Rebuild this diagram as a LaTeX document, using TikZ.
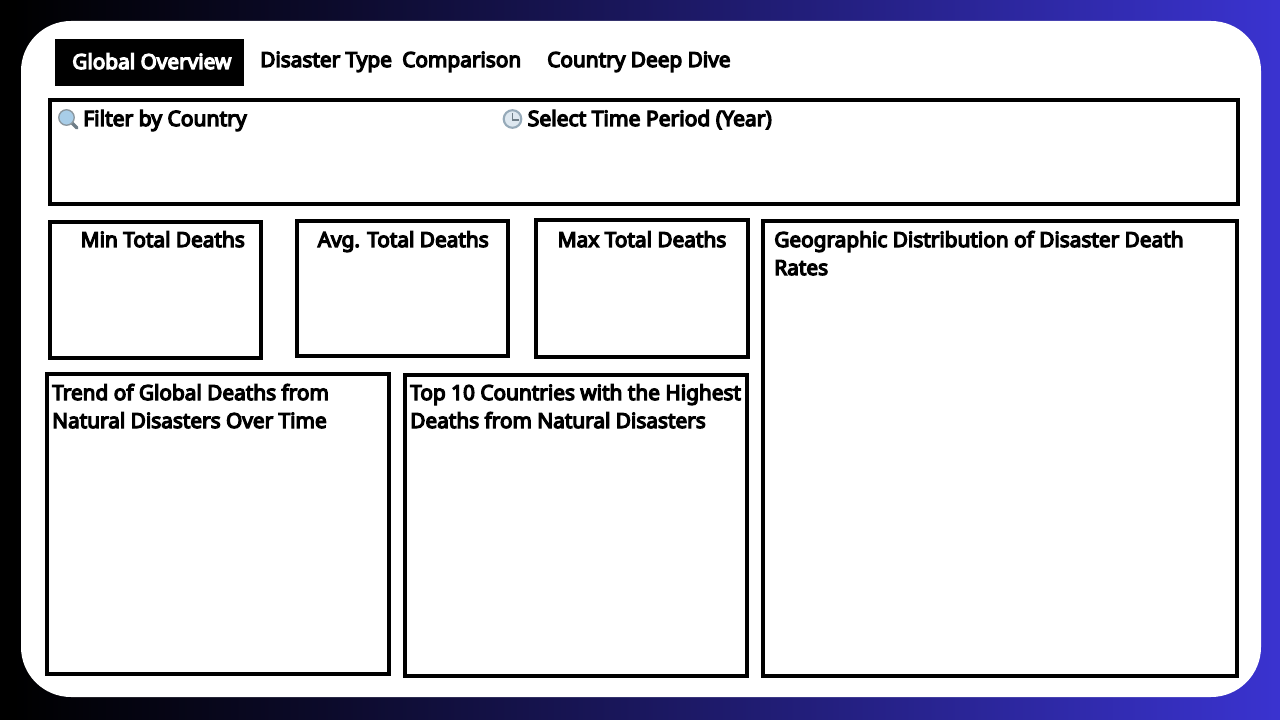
\documentclass[tikz,border=0pt]{standalone}
\usepackage{fontspec}
\setmainfont{Noto Sans}[BoldFont=Noto Sans,BoldFeatures={FakeBold=6}]
\usetikzlibrary{positioning}
\definecolor{edgeblue}{RGB}{58,51,208}
\definecolor{lensblue}{RGB}{168,205,232}
\definecolor{handlegray}{RGB}{110,125,135}
\definecolor{clockgray}{RGB}{150,170,185}
\definecolor{clockface}{RGB}{222,232,240}
\pgfdeclarehorizontalshading{backdrop}{100bp}{
  color(0bp)=(black); color(25.5bp)=(black); color(37.5bp)=(black!80!edgeblue);
  color(50bp)=(black!55!edgeblue); color(62.5bp)=(black!28!edgeblue);
  color(75bp)=(edgeblue); color(100bp)=(edgeblue)}
\begin{document}
\begin{tikzpicture}[
  x=0.75pt,y=-0.75pt,
  panel/.style={draw=black,line width=3pt,fill=white,anchor=north west,inner sep=0,outer sep=0},
  heading/.style={anchor=base west,inner sep=0,font=\bfseries\fontsize{15.6}{21}\selectfont,align=left},
  filterlabel/.style={heading,font=\bfseries\fontsize{15.8}{21}\selectfont}
]
\useasboundingbox (0,0) rectangle (1280,720);
\shade[shading=backdrop] (0,0) rectangle (1280,720);
\fill[white,rounded corners=37.5pt] (21,21) rectangle (1261,697);

% tabs
\node (overviewtab) [anchor=north west,fill=black,inner sep=0,minimum width=141.75pt,minimum height=35.25pt] at (55,39) {};
\node (overview) [heading,text=white] at (72,69) {Global Overview};
\node (disaster) [heading] at (260,67) {Disaster Type};
\node (comparison) [heading] at (402,67) {Comparison};
\node (deepdive) [heading] at (547,67) {Country Deep Dive};

% filter bar
\node (filterbar) [panel,minimum width=891.4pt,minimum height=77.6pt] at (49.5,100.5) {};
\node (filter) [filterlabel] at (83,126) {Filter by Country};
\node (period) [filterlabel] at (527.5,126) {Select Time Period (Year)};

% magnifier
\draw[handlegray,line width=2.4pt,line cap=round] (72,123) -- (77,128);
\fill[lensblue,draw=handlegray!80,line width=1pt] (66.5,117.5) circle (5.8pt);

% clock
\fill[clockface,draw=clockgray,line width=1.6pt] (512.5,119) circle (6.6pt);
\draw[handlegray,line width=0.8pt] (512.5,113) -- (512.5,120) -- (519,120);

% kpi cards
\node (mincard) [panel,minimum width=158.6pt,minimum height=102pt] at (49.5,222) {};
\node (avgcard) [panel,minimum width=158.6pt,minimum height=101pt] at (296.5,221.5) {};
\node (maxcard) [panel,minimum width=159pt,minimum height=102pt] at (536,220.5) {};
\node (mintitle) [heading] at (80.5,247) {Min Total Deaths};
\node (avgtitle) [heading] at (317.5,247) {Avg. Total Deaths};
\node (maxtitle) [heading] at (557.5,247) {Max Total Deaths};

% charts
\node (mapcard) [panel,minimum width=356pt,minimum height=341pt] at (762.5,221) {};
\node (trendcard) [panel,minimum width=257pt,minimum height=225pt] at (46.5,374) {};
\node (topcard) [panel,minimum width=257pt,minimum height=226pt] at (404.5,374.5) {};
\node (maptitle) [heading] at (774,275) {Geographic Distribution of Disaster Death\\Rates};
\node (trendtitle) [heading] at (52,428) {Trend of Global Deaths from\\Natural Disasters Over Time};
\node (toptitle) [heading] at (410,428) {Top 10 Countries with the Highest\\Deaths from Natural Disasters};
\end{tikzpicture}
\end{document}
